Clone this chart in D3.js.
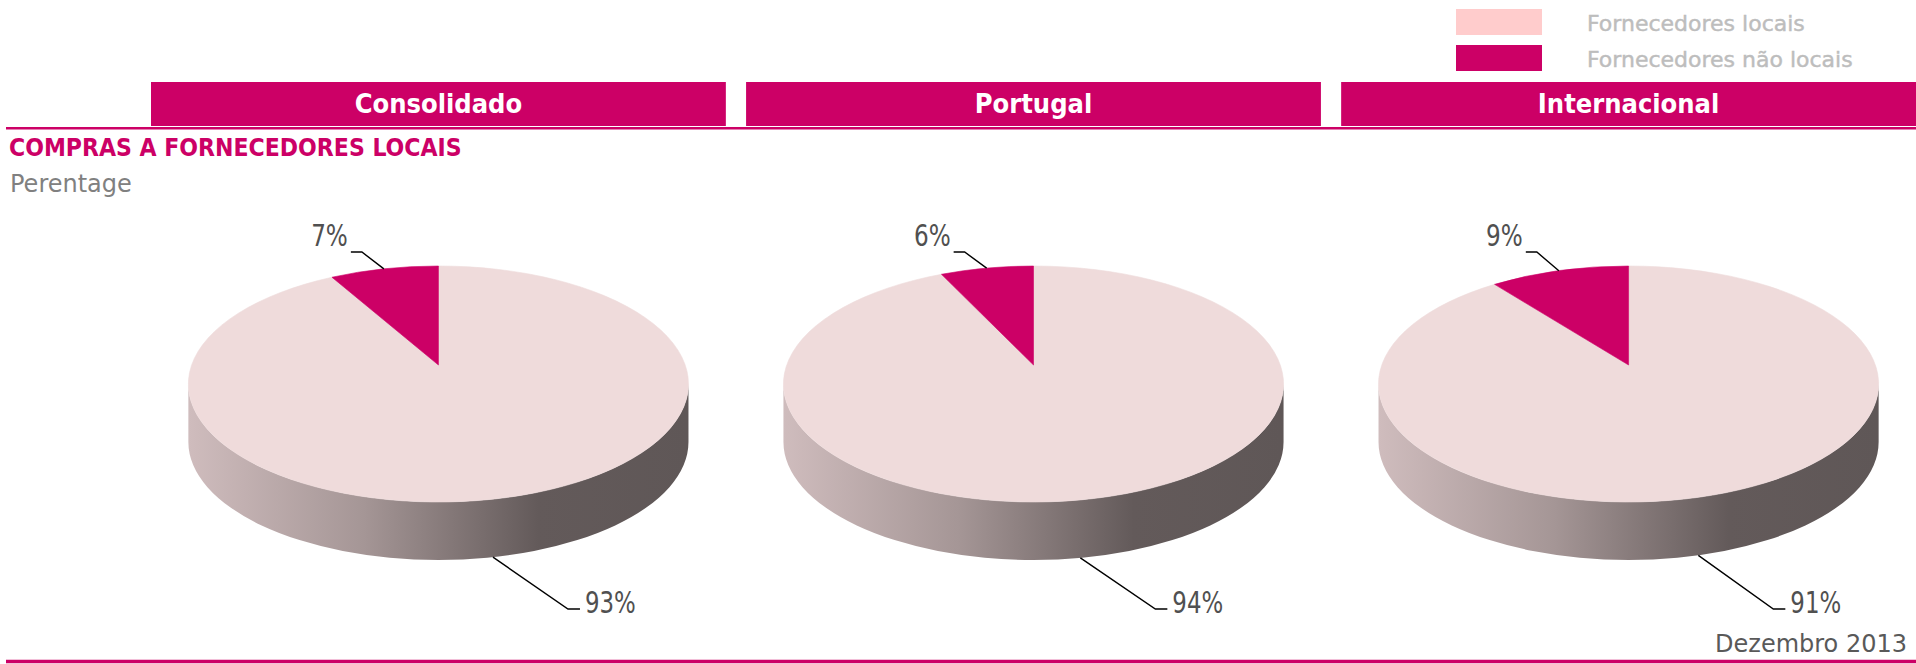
<!DOCTYPE html>
<html>
<head>
<meta charset="utf-8">
<script src="https://cdn.jsdelivr.net/npm/d3@7"></script>
<style>
  body { margin: 0; background: #fff; }
  svg { display: block; }
</style>
</head>
<body>
<svg id="chart" width="1916" height="664"></svg>
<script>
// data
const regions = ["Consolidado", "Portugal", "Internacional"];
const localShare = [93, 94, 91];
const nonLocalShare = [7, 6, 9];
const seriesNames = ["Fornecedores locais", "Fornecedores não locais"];
const chartTitle = "COMPRAS A FORNECEDORES LOCAIS";
const unitLabel = "Perentage";
const dateLabel = "Dezembro 2013";

const width = 1916;
const height = 664;
const magenta = "#CC0066";
const topPink = "#EFDBDB";
const legendPink = "#FFCCCC";
const condensed = "'DejaVu Sans Condensed', 'DejaVu Sans', sans-serif";

const svg = d3.select("#chart");
const defs = svg.append("defs");

// columns
const x = d3.scaleBand().domain(regions).range([151, width]).paddingInner(0.034);

// legend
const legendColor = d3.scaleOrdinal().domain(seriesNames).range([legendPink, magenta]);
const legendY = d3.scalePoint().domain(seriesNames).range([9, 45]);
const legend = svg.append("g").attr("class", "legend");
legend
  .selectAll("rect")
  .data(seriesNames)
  .enter()
  .append("rect")
  .attr("x", 1456)
  .attr("y", (d) => legendY(d))
  .attr("width", 86)
  .attr("height", 26)
  .attr("fill", (d) => legendColor(d));
legend
  .selectAll("text")
  .data(seriesNames)
  .enter()
  .append("text")
  .attr("x", 1587)
  .attr("y", (d) => legendY(d) + 22)
  .style("font-family", "'DejaVu Sans', sans-serif")
  .style("font-size", "22px")
  .attr("fill", "#BDBDBD")
  .attr("stroke", "#BDBDBD")
  .attr("stroke-width", 0.45)
  .text((d) => d);

// header bars
const header = svg.append("g").attr("class", "header");
header
  .selectAll("rect")
  .data(regions)
  .enter()
  .append("rect")
  .attr("x", (d) => x(d))
  .attr("y", 82)
  .attr("width", x.bandwidth())
  .attr("height", 44)
  .attr("fill", magenta);
header
  .selectAll("text")
  .data(regions)
  .enter()
  .append("text")
  .attr("x", (d) => x(d) + x.bandwidth() / 2)
  .attr("y", 113)
  .attr("text-anchor", "middle")
  .style("font-family", condensed)
  .style("font-weight", "bold")
  .style("font-size", "27px")
  .attr("fill", "#fff")
  .text((d) => d);

svg.append("line")
  .attr("x1", 6).attr("x2", width)
  .attr("y1", 128.2).attr("y2", 128.2)
  .attr("stroke", magenta).attr("stroke-width", 2.5);

svg.append("text")
  .attr("x", 9).attr("y", 156)
  .style("font-family", condensed)
  .style("font-weight", "bold")
  .style("font-size", "24.5px")
  .attr("fill", magenta)
  .text(chartTitle);

svg.append("text")
  .attr("x", 10).attr("y", 192)
  .style("font-family", "'DejaVu Sans', sans-serif")
  .style("font-size", "24px")
  .attr("fill", "#808080")
  .text(unitLabel);

// pies
const rx = x.bandwidth() * 0.435;
const ry = 118;
const depth = 58;
const cy = 384;
const apexShift = 19;
const labelSize = 31;

const grad = defs.append("linearGradient").attr("id", "side").attr("x1", 0).attr("x2", 1).attr("y1", 0).attr("y2", 0);
[["0%", "#CFBCBD"], ["35%", "#A59696"], ["70%", "#635A5A"], ["100%", "#5F5757"]].forEach(([o, c]) =>
  grad.append("stop").attr("offset", o).attr("stop-color", c)
);

const pie = d3.pie().sort(null).value((d) => d.value);
const sliceColor = d3.scaleOrdinal().domain(seriesNames).range([topPink, magenta]);

regions.forEach((region, i) => {
  const cx = x(region) + x.bandwidth() / 2;
  const pt = (a) => [cx + rx * Math.sin(a), cy - ry * Math.cos(a)];
  const apex = [cx, cy - apexShift];
  const slices = pie([
    { name: seriesNames[0], value: localShare[i] },
    { name: seriesNames[1], value: nonLocalShare[i] },
  ]);

  const g = svg.append("g").attr("class", "pie");

  // side wall
  g.append("path")
    .attr("d", `M${cx - rx},${cy} L${cx - rx},${cy + depth} A${rx},${ry} 0 0 0 ${cx + rx},${cy + depth} L${cx + rx},${cy} A${rx},${ry} 0 0 1 ${cx - rx},${cy} Z`)
    .attr("fill", "url(#side)");

  // top face
  g.selectAll(".slice")
    .data(slices)
    .enter()
    .append("path")
    .attr("class", "slice")
    .attr("d", (d) => {
      const p0 = pt(d.startAngle);
      const p1 = pt(d.endAngle);
      const large = d.endAngle - d.startAngle > Math.PI ? 1 : 0;
      return `M${apex} L${p0} A${rx},${ry} 0 ${large} 1 ${p1} Z`;
    })
    .attr("fill", (d) => sliceColor(d.data.name))
    .attr("stroke", (d) => sliceColor(d.data.name))
    .attr("stroke-width", 0.6);

  // labels
  slices.forEach((d) => {
    const mid = (d.startAngle + d.endAngle) / 2;
    const isSmall = d.data.name === seriesNames[1];
    let anchor, elbow, end, tx, ty, ta;
    if (isSmall) {
      anchor = pt(mid);
      elbow = [anchor[0] - 22, cy - ry - 14];
      end = [elbow[0] - 11, elbow[1]];
      tx = end[0] - 3; ty = elbow[1] - 6; ta = "end";
    } else {
      anchor = [cx + rx * Math.sin(mid), cy - ry * Math.cos(mid) + depth];
      elbow = [anchor[0] + 75, cy + ry + depth + 49];
      end = [elbow[0] + 12, elbow[1]];
      tx = end[0] + 5; ty = elbow[1] + 4; ta = "start";
    }
    g.append("polyline")
      .attr("points", [anchor, elbow, end].map((p) => p.join(",")).join(" "))
      .attr("fill", "none")
      .attr("stroke", "#000")
      .attr("stroke-width", 1.4);
    const label = d.data.value + "%";
    // narrow face: squeeze the condensed font to the reference width
    const w = labelSize * (0.456 * (label.length - 1) + 0.729);
    g.append("text")
      .attr("x", tx).attr("y", ty)
      .attr("text-anchor", ta)
      .attr("textLength", w)
      .attr("lengthAdjust", "spacingAndGlyphs")
      .style("font-family", condensed)
      .style("font-size", labelSize + "px")
      .attr("fill", "#505050")
      .text(label);
  });
});

svg.append("text")
  .attr("x", 1907).attr("y", 652)
  .attr("text-anchor", "end")
  .style("font-family", "'DejaVu Sans', sans-serif")
  .style("font-size", "24px")
  .attr("fill", "#595959")
  .text(dateLabel);

svg.append("line")
  .attr("x1", 6).attr("x2", width)
  .attr("y1", 661.5).attr("y2", 661.5)
  .attr("stroke", magenta).attr("stroke-width", 3.5);
</script>
</body>
</html>
